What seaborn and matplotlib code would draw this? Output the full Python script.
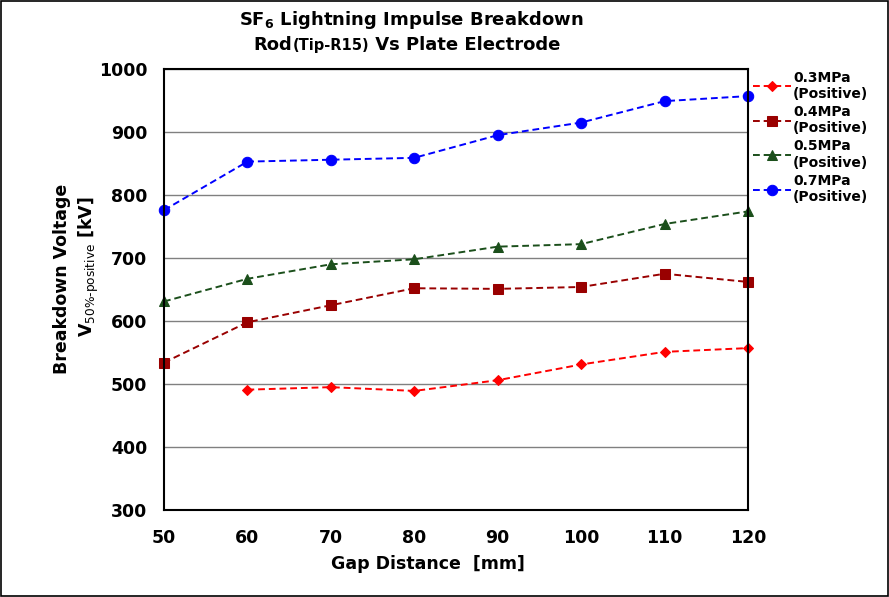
import matplotlib
matplotlib.use("Agg")
import matplotlib.pyplot as plt
import seaborn as sns
import pandas as pd
import numpy as np
from matplotlib.patches import Rectangle
from matplotlib.offsetbox import TextArea, HPacker, AnnotationBbox

gap_mm = [50, 60, 70, 80, 90, 100, 110, 120]
v_03 = [np.nan, 491, 495, 489, 506, 531, 551, 557]
v_04 = [534, 598, 625, 652, 651, 654, 675, 662]
v_05 = [631, 667, 690, 698, 718, 722, 754, 774]
v_07 = [776, 853, 856, 859, 895, 915, 949, 957]
labels = ["0.3MPa\n(Positive)", "0.4MPa\n(Positive)", "0.5MPa\n(Positive)", "0.7MPa\n(Positive)"]
x_ticks = [50, 60, 70, 80, 90, 100, 110, 120]
y_ticks = [300, 400, 500, 600, 700, 800, 900, 1000]

sns.set_theme(style="white")
plt.rcParams['font.family'] = ['DejaVu Sans']
plt.rcParams['mathtext.fontset'] = 'custom'
plt.rcParams['mathtext.rm'] = 'DejaVu Sans'
plt.rcParams['mathtext.default'] = 'regular'
for k in ['text.color', 'axes.labelcolor', 'xtick.color', 'ytick.color']:
    plt.rcParams[k] = 'black'

W, H = 889, 597
fig = plt.figure(figsize=(W/100, H/100), dpi=100)
ax = fig.add_axes([164/W, 1-510/H, (748-164)/W, (510-69)/H])

series = [v_03, v_04, v_05, v_07]
colors = ["#FF0000", "#990000", "#1B4F1B", "#0000FF"]
markers = ["D", "s", "^", "o"]
msizes = [5, 6.5, 6.5, 7.5]
for vals, lab, c, m, ms in zip(series, labels, colors, markers, msizes):
    df = pd.DataFrame({"gap": gap_mm, "v": vals}).dropna()
    sns.lineplot(data=df, x="gap", y="v", ax=ax, color=c, marker=m, markersize=ms,
                 markeredgecolor=c, linestyle=(0, (3.5, 2)), linewidth=1.4, label=lab, clip_on=False)

ax.set_xlim(50, 120)
ax.set_ylim(300, 1000)
ax.set_xticks(x_ticks)
ax.set_yticks(y_ticks)
ax.yaxis.grid(True, color="#808080", linewidth=1)
ax.xaxis.grid(False)
for s in ax.spines.values():
    s.set_color("black")
    s.set_linewidth(1.5)
ax.tick_params(axis="both", direction="in", length=4, width=1, labelsize=12.5)
ax.tick_params(axis="x", pad=14)
ax.tick_params(axis="y", pad=12)
for t in ax.get_xticklabels() + ax.get_yticklabels():
    t.set_fontweight("bold")

ax.set_xlabel("")
ax.set_ylabel("")
fig.text(428/W, 1-564/H, "Gap Distance  [mm]", fontsize=12.5, fontweight="bold",
         ha="center", va="center")
fig.text(62/W, 1-279/H, "Breakdown Voltage", fontsize=12.5, fontweight="bold",
         rotation=90, ha="center", va="center")
fig.text(89/W, 1-267/H, "V$_{\\mathrm{50\\%\u2010positive}}$ [kV]", fontsize=12.5, fontweight="bold",
         rotation=90, ha="center", va="center")

# title
fig.text(411/W, 1-20/H, "SF$_6$ Lightning Impulse Breakdown", fontsize=13, fontweight="bold",
         ha="center", va="center")
parts = [TextArea("Rod", textprops=dict(fontsize=13, fontweight="bold", color="black")),
         TextArea("(Tip-R15)", textprops=dict(fontsize=10.5, fontweight="bold", color="black")),
         TextArea(" Vs Plate Electrode", textprops=dict(fontsize=13, fontweight="bold", color="black"))]
pack = HPacker(children=parts, align="baseline", pad=0, sep=0)
ab = AnnotationBbox(pack, (407/W, 1-45/H), xycoords="figure fraction", frameon=False,
                    box_alignment=(0.5, 0.5), pad=0)
fig.add_artist(ab)

leg = ax.legend(loc="upper left", bbox_to_anchor=(0.995, 1.015), frameon=False, fontsize=10,
                handlelength=2.7, handletextpad=0.15, labelspacing=0.3, borderaxespad=0.2)
for t in leg.get_texts():
    t.set_fontweight("bold")

fig.patches.append(Rectangle((0.001, 0.001), 0.998, 0.997, transform=fig.transFigure,
                             fill=False, edgecolor="black", linewidth=1.2))
fig.savefig("out.png", dpi=100)
